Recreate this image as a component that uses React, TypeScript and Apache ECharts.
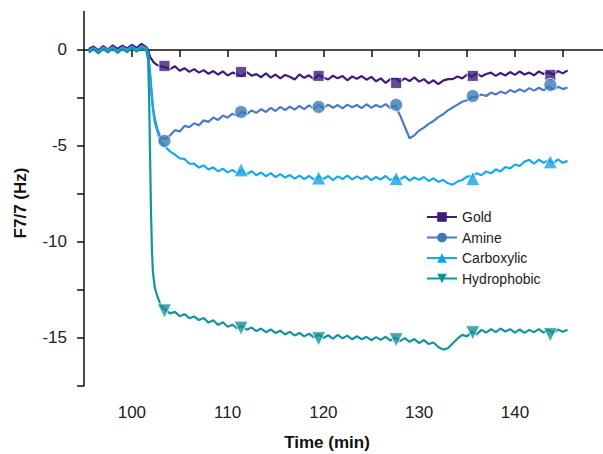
import React, { useEffect, useRef } from "react";
import * as echarts from "echarts";

// Time axis (min)
const timeMin = [
  95.5, 96, 96.5, 97, 97.5, 98, 98.5, 99, 99.5, 100, 100.5, 101, 101.5,
  101.7, 101.8, 101.9, 102, 102.1, 102.2, 102.4, 102.7, 103,
  103.5, 104, 104.5, 105, 105.5, 106, 106.5, 107, 107.5, 108,
  108.5, 109, 109.5, 110, 110.5, 111, 111.5, 112, 112.5, 113,
  113.5, 114, 114.5, 115, 115.5, 116, 116.5, 117, 117.5, 118,
  118.5, 119, 119.5, 120, 120.5, 121, 121.5, 122, 122.5, 123,
  123.5, 124, 124.5, 125, 125.5, 126, 126.5, 127, 127.5, 128,
  128.5, 129, 129.5, 130, 130.5, 131, 131.5, 132, 132.5, 133,
  133.5, 134, 134.5, 135, 135.5, 136, 136.5, 137, 137.5, 138,
  138.5, 139, 139.5, 140, 140.5, 141, 141.5, 142, 142.5, 143,
  143.5, 144, 144.5, 145, 145.5,
];

const goldValues = [
  0.05, 0.18, -0.02, 0.2, 0.02, 0.24, 0.06, 0.22, 0.08, 0.26, 0.1, 0.32, 0.15,
  0.0, -0.2, -0.35, -0.45, -0.5, -0.6, -0.7, -0.8, -0.85,
  -0.9, -1.0, -0.85, -1.08, -0.95, -1.14, -1.0, -1.18, -1.05, -1.24,
  -1.1, -1.28, -1.12, -1.33, -1.18, -1.26, -1.38, -1.16, -1.34, -1.26,
  -1.42, -1.22, -1.44, -1.28, -1.48, -1.3, -1.4, -1.54, -1.28, -1.45,
  -1.32, -1.52, -1.3, -1.44, -1.54, -1.34, -1.48, -1.36, -1.58, -1.38,
  -1.5, -1.36, -1.55, -1.4, -1.63, -1.48, -1.72, -1.52, -1.46, -1.65,
  -1.48, -1.62, -1.43, -1.65, -1.52, -1.74, -1.58, -1.78, -1.6, -1.52,
  -1.52, -1.38, -1.48, -1.28, -1.4, -1.22, -1.38, -1.25, -1.18, -1.35,
  -1.2, -1.33, -1.15, -1.3, -1.12, -1.28, -1.18, -1.32, -1.12, -1.25,
  -1.15, -1.3, -1.1, -1.22, -1.06,
];

const amineValues = [
  -0.02, 0.12, -0.08, 0.14, 0.0, 0.16, -0.03, 0.14, 0.02, 0.19, 0.02, 0.22, 0.1,
  -0.2, -0.7, -1.2, -1.8, -2.4, -3.0, -3.6, -4.2, -4.55,
  -4.65, -4.45, -4.18, -4.25, -3.96, -4.02, -3.82, -3.93, -3.67, -3.75,
  -3.52, -3.65, -3.42, -3.53, -3.32, -3.43, -3.22, -3.35, -3.15, -3.28,
  -3.09, -3.23, -3.02, -3.18, -2.97, -3.13, -2.95, -3.11, -2.92, -3.08,
  -2.89, -3.05, -2.87, -3.03, -2.85, -3.01, -2.87, -3.05, -2.85, -2.99,
  -2.87, -3.03, -2.83, -3.01, -2.87, -2.98, -2.82, -3.03, -2.88, -3.4,
  -4.0, -4.6, -4.45, -4.2, -4.05, -3.85, -3.7, -3.5, -3.35, -3.15,
  -3.0, -2.85, -2.7, -2.62, -2.46, -2.44, -2.32, -2.4, -2.22, -2.32,
  -2.17, -2.27, -2.09, -2.2, -2.05, -2.17, -1.99, -2.12, -1.97, -2.1,
  -1.92, -2.07, -1.92, -2.04, -1.96,
];

const carboxylicValues = [
  -0.08, 0.08, -0.13, 0.11, -0.05, 0.13, -0.08, 0.09, -0.03, 0.13, 0.0, 0.14, 0.05,
  -0.2, -0.7, -1.3, -2.0, -2.6, -3.1, -3.8, -4.3, -4.8,
  -5.05, -5.3, -5.45, -5.65, -5.68, -5.93, -5.92, -6.13, -6.02, -6.23,
  -6.12, -6.33, -6.19, -6.38, -6.25, -6.43, -6.27, -6.48, -6.32, -6.53,
  -6.39, -6.58, -6.42, -6.63, -6.47, -6.65, -6.52, -6.71, -6.55, -6.73,
  -6.57, -6.75, -6.59, -6.73, -6.57, -6.78, -6.59, -6.73, -6.55, -6.75,
  -6.59, -6.73, -6.57, -6.78, -6.62, -6.75, -6.57, -6.79, -6.63, -6.75,
  -6.59, -6.81, -6.65, -6.77, -6.62, -6.83, -6.69, -6.88, -6.77, -6.95,
  -7.02, -6.86, -6.78, -6.6, -6.58, -6.43, -6.53, -6.33, -6.43, -6.22,
  -6.33, -6.1, -6.18, -5.97, -6.05, -5.82, -5.73, -5.93, -5.72, -5.88,
  -5.75, -5.91, -5.7, -5.88, -5.78,
];

const hydrophobicValues = [
  -0.14, 0.04, -0.18, 0.05, -0.12, 0.08, -0.15, 0.03, -0.11, 0.08, -0.08, 0.08, -0.02,
  -0.5, -2.5, -5.5, -8.5, -10.5, -11.6, -12.4, -12.9, -13.3,
  -13.55, -13.73, -13.65, -13.88, -13.77, -13.98, -13.89, -14.08, -13.97, -14.21,
  -14.09, -14.33, -14.19, -14.43, -14.32, -14.51, -14.39, -14.58, -14.47, -14.65,
  -14.52, -14.71, -14.57, -14.75, -14.63, -14.83, -14.69, -14.88, -14.75, -14.93,
  -14.79, -14.98, -14.83, -15.01, -14.87, -15.05, -14.85, -15.03, -14.89, -15.08,
  -14.92, -15.08, -14.95, -15.13, -14.97, -15.11, -14.95, -15.15, -14.99, -15.18,
  -15.02, -15.21, -15.07, -15.28, -15.12, -15.33, -15.25, -15.48, -15.62, -15.55,
  -15.3, -15.05, -14.85, -14.93, -14.69, -14.83, -14.59, -14.73, -14.55, -14.71,
  -14.52, -14.68, -14.55, -14.73, -14.57, -14.75, -14.59, -14.71, -14.55, -14.73,
  -14.59, -14.75, -14.57, -14.69, -14.58,
];

// Marker positions
const markerTimes = [103.4, 111.4, 119.5, 127.6, 135.6, 143.7];
const goldMarkers = [-0.83, -1.15, -1.35, -1.72, -1.35, -1.3];
const amineMarkers = [-4.74, -3.23, -2.97, -2.86, -2.4, -1.82];
const carboxylicMarkerTimes = [111.4, 119.5, 127.6, 135.6, 143.7];
const carboxylicMarkers = [-6.25, -6.67, -6.7, -6.7, -5.83];
const hydrophobicMarkers = [-13.6, -14.5, -15.05, -15.1, -14.74, -14.84];

const seriesNames = ["Gold", "Amine", "Carboxylic", "Hydrophobic"];
const xTicks = [100, 105, 110, 115, 120, 125, 130, 135, 140, 145];
const xLabels = [100, 110, 120, 130, 140];
const yTicks = [-17.5, -15, -12.5, -10, -7.5, -5, -2.5, 0];
const yLabels = [-15, -10, -5, 0];

const FONT = "'Liberation Sans', Arial, Helvetica, sans-serif";

export default function App() {
  const ref = useRef<HTMLDivElement>(null);
  useEffect(() => {
    if (!ref.current) return;
    const chart = echarts.init(ref.current, null, { renderer: "svg" });
    const zip = (xs: number[], ys: number[]) => xs.map((x, i) => [x, ys[i]]);

    const lineCfg = [
      { name: "Gold", vals: goldValues, color: "#3d1c7c", symbol: "rect", mColor: "#3d1c7c", size: 11 },
      { name: "Amine", vals: amineValues, color: "#4c7ac6", symbol: "circle", mColor: "#3b7bb6", size: 13 },
      { name: "Carboxylic", vals: carboxylicValues, color: "#1aa9e8", symbol: "triangle", mColor: "#12a4e4", size: 14 },
      { name: "Hydrophobic", vals: hydrophobicValues, color: "#13959d", symbol: "path://M0,0 L10,0 L5,9 Z", mColor: "#11929a", size: 14 },
    ];
    const markerData = [
      zip(markerTimes, goldMarkers),
      zip(markerTimes, amineMarkers),
      zip(carboxylicMarkerTimes, carboxylicMarkers),
      zip(markerTimes, hydrophobicMarkers),
    ];

    const series: any[] = [];
    lineCfg.forEach((c) => {
      series.push({
        name: c.name,
        type: "line",
        data: zip(timeMin, c.vals),
        symbol: c.symbol,
        symbolSize: c.size,
        showSymbol: false,
        lineStyle: { color: c.color, width: 2.2 },
        itemStyle: { color: c.mColor },
        z: 2,
      });
    });
    lineCfg.forEach((c, i) => {
      series.push({
        name: c.name + " markers",
        type: "scatter",
        data: markerData[i],
        symbol: c.symbol,
        symbolSize: c.size,
        itemStyle: { color: c.mColor, borderColor: "#ffffff", borderWidth: 1 },
        z: 3,
      });
    });

    chart.setOption({
      animation: false,
      backgroundColor: "#ffffff",
      grid: { left: 84, right: 0, top: 11.6, bottom: 68.3, containLabel: false },
      legend: {
        data: seriesNames,
        orient: "vertical",
        left: 426,
        top: 210,
        padding: 0,
        itemWidth: 30,
        itemHeight: 12,
        itemGap: 6.5,
        textStyle: { fontFamily: FONT, fontSize: 14, color: "#222", padding: [0, 0, 0, 0] },
        inactiveColor: "#ccc",
      },
      xAxis: {
        type: "value",
        min: 95,
        max: 149.2,
        axisLine: { show: true, lineStyle: { color: "#111", width: 1.5 } },
        axisTick: { show: true, length: 7, customValues: xTicks, lineStyle: { color: "#111", width: 1.5 } },
        axisLabel: { customValues: xLabels, margin: 18, fontFamily: FONT, fontSize: 17, color: "#222" },
        splitLine: { show: false },
      },
      yAxis: {
        type: "value",
        min: -17.5,
        max: 2,
        axisLine: { show: true, lineStyle: { color: "#111", width: 1.5 } },
        axisTick: { show: true, length: 7, customValues: yTicks, lineStyle: { color: "#111", width: 1.5 } },
        axisLabel: { customValues: yLabels, margin: 17, fontFamily: FONT, fontSize: 17, color: "#222" },
        splitLine: { show: false },
      },
      graphic: [
        {
          type: "text",
          x: 327,
          y: 442,
          style: {
            text: "Time (min)",
            fontFamily: FONT,
            fontSize: 17,
            fontWeight: "bold",
            fill: "#111",
            textAlign: "center",
            textVerticalAlign: "middle",
          },
        },
        {
          type: "text",
          x: 20,
          y: 203,
          rotation: Math.PI / 2,
          style: {
            text: "F7/7 (Hz)",
            fontFamily: FONT,
            fontSize: 17,
            fontWeight: "bold",
            fill: "#111",
            textAlign: "center",
            textVerticalAlign: "middle",
          },
        },
      ],
      series,
    });
    return () => chart.dispose();
  }, []);
  return (
    <div
      ref={ref}
      style={{ position: "fixed", left: 0, top: 0, width: 603, height: 454, background: "#fff" }}
    />
  );
}
